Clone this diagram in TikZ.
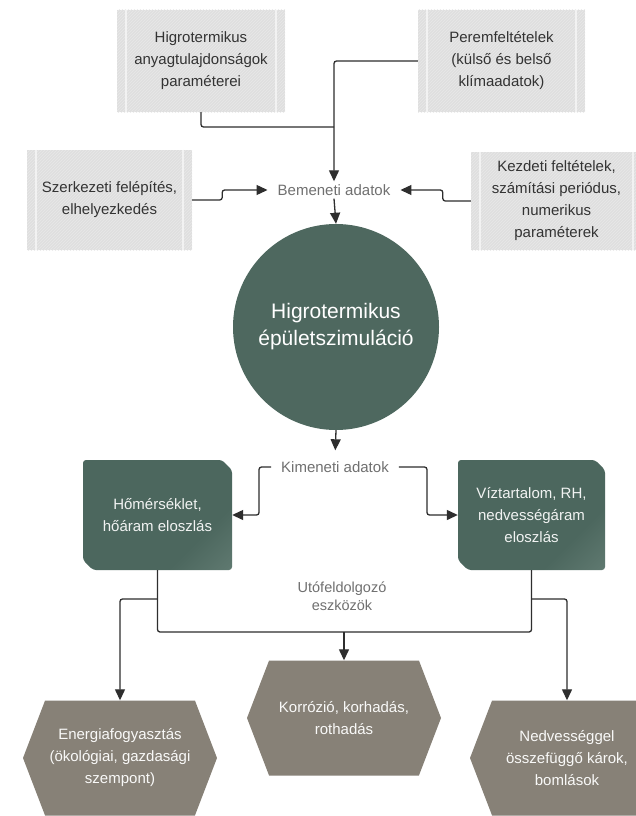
\documentclass[tikz,border=0pt]{standalone}
\usepackage{fontspec}
\setmainfont{Liberation Sans}
\usetikzlibrary{arrows.meta,shapes.misc,shapes.symbols,patterns}
\definecolor{gboxD}{HTML}{4C675E}
\definecolor{gboxM}{HTML}{5E786F}
\definecolor{gboxL}{HTML}{B4C2BC}
\definecolor{circG}{HTML}{4E685F}
\definecolor{hexG}{HTML}{878177}
\definecolor{inG}{HTML}{DFDFDF}
\definecolor{hatchC}{HTML}{E8E8E8}
\definecolor{lineC}{HTML}{2E2E2E}
\definecolor{lblC}{HTML}{707070}
\definecolor{txtC}{HTML}{333333}
\pgfdeclareverticalshading{gboxshade}{100bp}{color(0bp)=(gboxL); color(16bp)=(gboxM); color(32bp)=(gboxD); color(100bp)=(gboxD)}
\begin{document}
\begin{tikzpicture}[x=1pt,y=-1pt,
  inbox/.style={rectangle, fill=inG, postaction={pattern=north east lines, pattern color=hatchC}, text=txtC, align=center, font=\fontsize{15}{22}\selectfont},
  lbl/.style={text=lblC, font=\fontsize{15}{18}\selectfont, inner xsep=10pt, inner ysep=3pt, text height=11pt, text depth=0pt},
  gbox/.style={chamfered rectangle, chamfered rectangle corners={north east,south west}, chamfered rectangle xsep=5pt, chamfered rectangle ysep=5pt, rounded corners=3pt, shade, shading=gboxshade, shading angle=45, text=white!92!gboxD, align=center, font=\fontsize{15}{22}\selectfont},
  hexbox/.style={signal, signal to=east and west, signal pointer angle=138, fill=hexG, text=white!95!hexG, align=center, font=\fontsize{15}{22}\selectfont, minimum width=194pt, minimum height=115pt, inner sep=2pt},
  conn/.style={draw=lineC, line width=1.3pt, rounded corners=2.5pt},
  arr/.style={conn, -{Triangle[length=11pt,width=10pt]}}
]
\fill[white] (0,0) rectangle (635,816);
\useasboundingbox (0,0) rectangle (635,816);

% input boxes
\node[inbox, minimum width=168pt, minimum height=102pt] (in1) at (201,61) {Higrotermikus\\anyagtulajdonságok\\paraméterei};
\node[inbox, minimum width=167pt, minimum height=102pt] (in2) at (501.5,61) {Peremfeltételek\\(külső és belső\\klímaadatok)};
\node[inbox, minimum width=165pt, minimum height=100pt] (in3) at (109.5,200) {Szerkezeti felépítés,\\elhelyezkedés};
\node[inbox, minimum width=171pt, minimum height=98pt] (in4) at (556.5,201) {Kezdeti feltételek,\\számítási periódus,\\numerikus\\paraméterek};
\foreach \n in {in1,in2,in3,in4}{
  \draw[white!60!inG, line width=1.6pt] ([xshift=9pt]\n.north west) -- ([xshift=9pt]\n.south west);
  \draw[white!60!inG, line width=1.6pt] ([xshift=-9pt]\n.north east) -- ([xshift=-9pt]\n.south east);
}

% labels
\node[lbl] (inp) at (334,190) {Bemeneti adatok};
\node[lbl] (out) at (335,467) {Kimeneti adatok};
\node[text=lblC, font=\fontsize{14.5}{18}\selectfont, align=center] (post) at (342,596) {Utófeldolgozó\\eszközök};

% central circle
\node[circle, fill=circG, minimum size=206pt, inner sep=0pt, text=white, align=center, font=\fontsize{21}{27}\selectfont] (sim) at (336,327) {Higrotermikus\\épületszimuláció};

% result boxes
\node[gbox, minimum width=149pt, minimum height=110pt] (t1) at (157.5,515) {Hőmérséklet,\\hőáram eloszlás};
\node[gbox, minimum width=147pt, minimum height=110pt] (t2) at (531.5,515) {Víztartalom, RH,\\nedvességáram\\eloszlás};

% hexagons
\node[hexbox] (e1) at (120,758) {Energiafogyasztás\\(ökológiai, gazdasági\\szempont)};
\node[hexbox] (e2) at (344,718) {Korrózió, korhadás,\\rothadás};
\node[hexbox] (e3) at (567,758) {Nedvességgel\\összefüggő károk,\\bomlások};

% helper coordinates
\coordinate (yJ) at (0,127);
\coordinate (busY) at (0,632);
\coordinate (brY) at (0,599);
\coordinate (j1) at (inp.north |- yJ);

% connectors
\draw[conn] (in1.south) |- (j1);
\draw[arr] (in2.west) -| (inp.north);
\draw[arr] (in3.east) -- ++(30,0) |- (inp.west);
\draw[arr] (in4.west) -- ++(-28,0) |- (inp.east);
\draw[arr] (inp.south) -- (sim.north);
\draw[arr, shorten >=8pt] (sim.south) -- (out.north);
\draw[arr] (out.west) -- ++(-12,0) |- (t1.east);
\draw[arr] (out.east) -- ++(28,0) |- (t2.west);
\draw[conn] (t1.south) -- (t1.south |- busY) -- (t2.south |- busY) -- (t2.south);
\draw[arr] (t1.south |- brY) -| (e1.north);
\draw[arr] (t2.south |- brY) -| (e3.north);
\draw[arr] (e2.north |- busY) -- (e2.north);
\end{tikzpicture}
\end{document}
